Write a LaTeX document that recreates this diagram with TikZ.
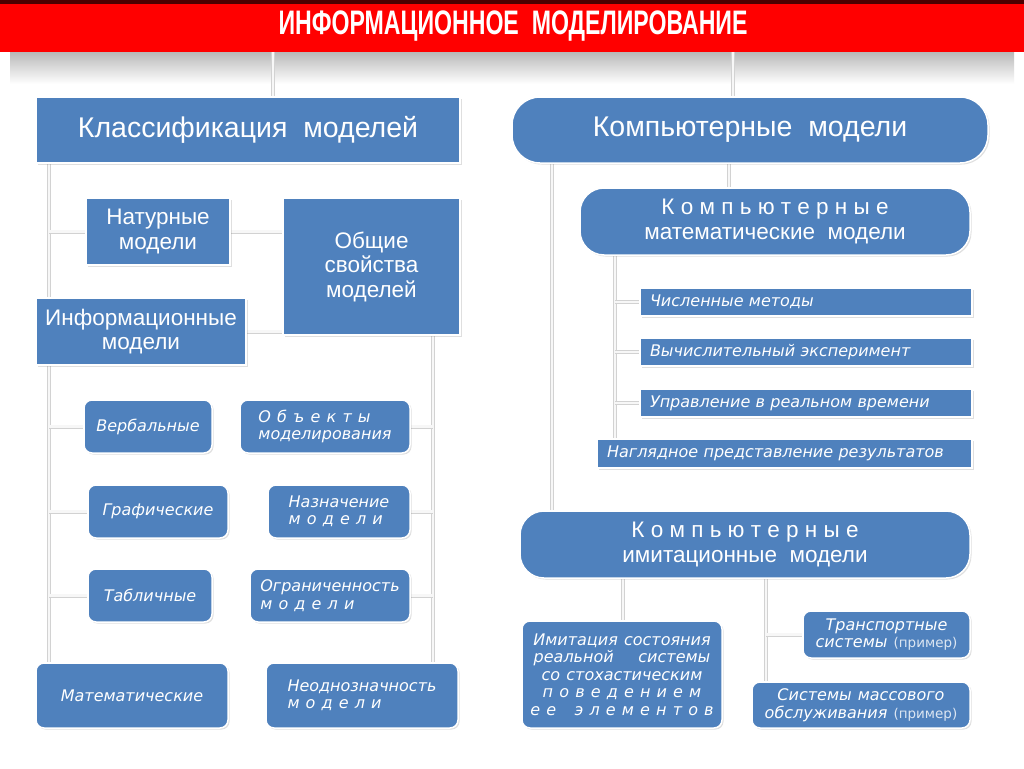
\documentclass[tikz,border=0pt]{standalone}
\usepackage{fontspec}
\setmainfont{Liberation Sans}
\newfontfamily\boxfont[WordSpace=2]{DejaVu Sans}
\newfontfamily\spfont[WordSpace=1.1]{DejaVu Sans}
\usepackage{tikz}
\usetikzlibrary{positioning,shadows}
\definecolor{boxblue}{HTML}{4F81BD}
\definecolor{titlered}{HTML}{FF0000}
\pgfdeclarelayer{bg}
\pgfsetlayers{bg,main}
\newcommand{\ex}{{\upshape\fontsize{13.5}{15}\selectfont\color{white!80!boxblue}(пример)}}

\begin{document}
\begin{tikzpicture}[x=1pt,y=-1pt,
box/.style={draw=white, line width=1.5pt, fill=boxblue, text=white, align=center, inner sep=2pt,
  drop shadow={opacity=0.25, shadow xshift=1.5pt, shadow yshift=-1.5pt}},
rbox/.style={box, rounded corners=8pt},
pill/.style={box, rounded corners=28pt},
bar/.style={box, align=left, inner xsep=10pt, inner ysep=0pt},
sz/.style 2 args={minimum width=#1, minimum height=#2},
big/.style={font=\fontsize{28.5}{30}\selectfont},
mid/.style={font=\fontsize{22.5}{24.5}\selectfont},
small/.style={font=\boxfont\itshape\fontsize{16}{17.5}\selectfont},
link/.style={draw=gray!35, line width=0.7pt, double=gray!6, double distance=2.6pt}
]
\useasboundingbox (0,0) rectangle (1024,768);

% title bar
\node[text=white, font=\bfseries\fontsize{34}{36}\selectfont] (title) at (513,26)
  {\scalebox{0.68}[1]{ИНФОРМАЦИОННОЕ\ \ МОДЕЛИРОВАНИЕ}};

% left column
\node[box, big, sz={424pt}{66pt}] (klass) at (248,130) {Классификация\ \ моделей};
\node[box, mid, sz={144pt}{67pt}] (natur) at (158,231.5) {Натурные\\модели};
\node[box, mid, sz={177pt}{137pt}] (obsh) at (371.5,266.5) {Общие\\свойства\\моделей};
\node[box, mid, sz={210pt}{67pt}] (inform) at (141,331.5) {Информационные\\модели};
\node[rbox, small, sz={128pt}{53pt}] (verb) at (148,426.5) {Вербальные};
\node[rbox, small, align=left, sz={170pt}{53pt}] (obj) at (325,426.5) {{\spfont О б ъ е к т ы}\\моделирования};
\node[rbox, small, sz={140pt}{53pt}] (graf) at (158,511.5) {Графические};
\node[rbox, small, align=left, sz={142pt}{53pt}] (nazn) at (339,511.5) {Назначение\\{\spfont м о д е л и}};
\node[rbox, small, sz={124pt}{53pt}] (tabl) at (150,595.5) {Табличные};
\node[rbox, small, align=left, sz={160pt}{53pt}] (ogran) at (330,595.5) {Ограниченность\\{\spfont м о д е л и}};
\node[rbox, small, sz={192pt}{65pt}] (matem) at (132,695.5) {Математические};
\node[rbox, small, align=left, sz={192pt}{65pt}] (neodn) at (362,695.5) {Неоднозначность\\{\spfont м о д е л и}};

% right column
\node[pill, big, sz={476pt}{66pt}] (komp) at (750,130) {Компьютерные\ \ модели};
\node[pill, mid, rounded corners=24pt, sz={390pt}{67pt}] (kmat) at (775,221.5)
  {К о м п ь ю т е р н ы е\\математические\ \ модели};
\node[bar, small, text width=312pt, minimum height=28pt] (chisl) at (806,302) {Численные методы};
\node[bar, small, text width=312pt, minimum height=28pt] (vych) at (806,352) {Вычислительный эксперимент};
\node[bar, small, text width=312pt, minimum height=28pt] (uprav) at (806,403) {Управление в реальном времени};
\node[bar, small, text width=355pt, minimum height=29pt] (nagl) at (784.5,453.5) {Наглядное представление результатов};
\node[pill, mid, rounded corners=24pt, sz={450pt}{67pt}] (kimit) at (745,544.5)
  {К о м п ь ю т е р н ы е\\имитационные\ \ модели};
\node[rbox, small, sz={200pt}{107pt}] (imit) at (622,674.5)
  {Имитация состояния\\{\spfont реальной\ \ \ \ системы}\\{\spfont со стохастическим}\\{\spfont п о в е д е н и е м}\\{\spfont е е\ \ \ э л е м е н т о в}};
\node[rbox, small, sz={167pt}{47pt}] (transp) at (886.5,634.5) {Транспортные\\системы \ex};
\node[rbox, small, sz={218pt}{46pt}] (smo) at (861,705) {Системы массового\\обслуживания \ex};

% background, shadow of the bar, connectors
\begin{pgfonlayer}{bg}
\fill[white] (0,0) rectangle (1024,768);
\shade[top color=gray!55, bottom color=white] (10,52) rectangle (1014,84);
\fill[titlered] (0,0) rectangle (1024,52);
\fill[black!70!red] (0,0) rectangle (1024,4);
\coordinate (t1) at (273,52);
\coordinate (t2) at (733,52);
\draw[link] (t1) -- (t1 |- klass.north);
\draw[link] (t2) -- (t2 |- komp.north);
\coordinate (lt) at (49,163);
\draw[link] (lt) -- (lt |- matem.north);
\foreach \n in {natur,verb,graf,tabl}
  \draw[link] (lt |- \n.west) -- (\n.west);
\draw[link] (natur.east) -- (natur.east -| obsh.west);
\draw[link] (inform.east) -- (inform.east -| obsh.west);
\coordinate (rt) at (433,335);
\draw[link] (rt) -- (rt |- neodn.north);
\foreach \n in {obj,nazn,ogran}
  \draw[link] (\n.east) -- (\n.east -| rt);
\coordinate (ct) at (552,163);
\draw[link] (ct) -- (ct |- kimit.north);
\coordinate (mt) at (729,163);
\draw[link] (mt) -- (mt |- kmat.north);
\coordinate (nt) at (615,255);
\draw[link] (nt) -- (nt |- nagl.north);
\foreach \n in {chisl,vych,uprav}
  \draw[link] (nt |- \n.west) -- (\n.west);
\coordinate (it) at (623,578);
\draw[link] (it) -- (it |- imit.north);
\coordinate (st) at (766,578);
\draw[link] (st) -- (st |- smo.north);
\draw[link] (st |- transp.west) -- (transp.west);
\end{pgfonlayer}
\end{tikzpicture}
\end{document}
